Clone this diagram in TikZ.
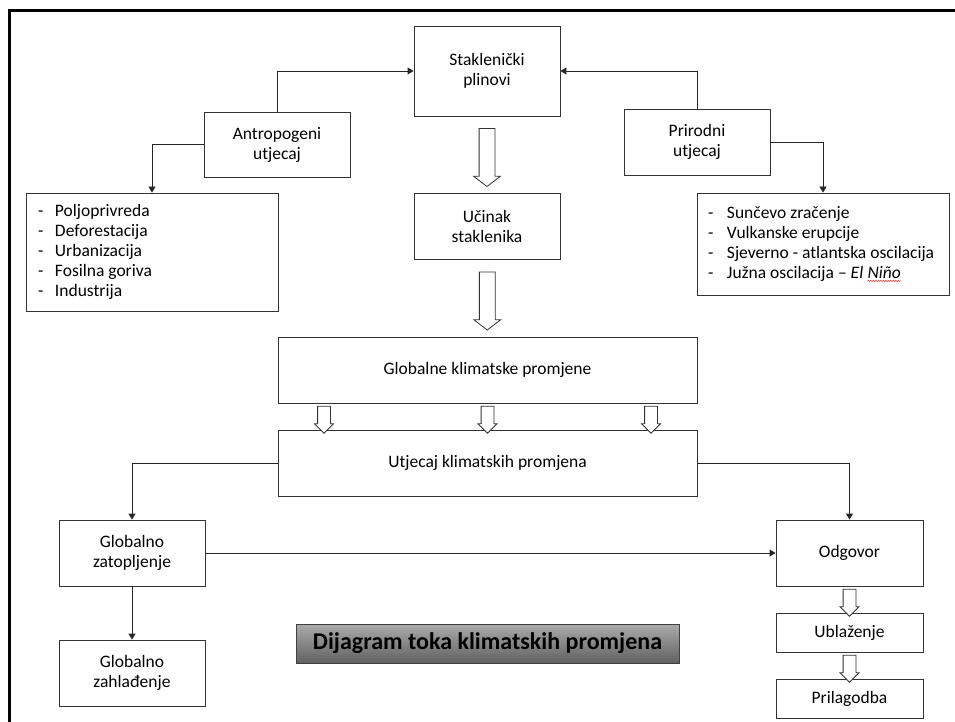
\documentclass[tikz,border=0pt]{standalone}
\usepackage{fontspec}
\setmainfont{Carlito}
\usetikzlibrary{arrows.meta, shapes.arrows, decorations.pathmorphing}

\begin{document}
\begin{tikzpicture}[x=1pt, y=-1pt,
    every node/.style={font=\fontsize{17.5}{20}\selectfont},
    box/.style={draw=black!80, line width=0.9pt, fill=white, align=center, inner sep=0pt, minimum width=146pt, minimum height=66pt},
    listbox/.style={draw=black!80, line width=0.9pt, align=flush left, inner xsep=12pt, inner ysep=0pt, text width=228pt},
    link/.style={draw=black!85, line width=0.9pt, -{Triangle[length=6pt, width=7pt]}},
    bigarrow/.style={single arrow, draw=black!80, fill=white, line width=0.8pt, rotate=-90, inner xsep=0pt, inner ysep=7.5pt, minimum width=26pt, single arrow head extend=5.5pt, single arrow tip angle=105},
    smallarrow/.style={bigarrow, inner ysep=6pt, minimum width=18pt, single arrow head extend=3pt, single arrow tip angle=90, minimum height=27pt},
    title/.style={draw=black!75, line width=0.8pt, top color=black!33, bottom color=black!62, minimum width=383pt, minimum height=39pt, inner sep=0pt, font=\fontsize{24}{27}\selectfont\bfseries}]
\useasboundingbox (0,0) rectangle (955,722);
\draw[line width=3pt] (9.5,722) -- (9.5,10.5) -- (955,10.5);

% upper part
\node[box, minimum height=90pt] (stak) at (487,71) {Staklenički\\plinovi};
\node[box, minimum height=65pt] (antro) at (277,144.5) {Antropogeni\\utjecaj};
\node[box] (prir) at (697,142) {Prirodni\\utjecaj};
\node[box] (ucinak) at (487,226) {Učinak\\staklenika};

\node[listbox, minimum height=118pt] (antrolist) at (152,252) {%
\makebox[17pt][l]{-}Poljoprivreda\\
\makebox[17pt][l]{-}Deforestacija\\
\makebox[17pt][l]{-}Urbanizacija\\
\makebox[17pt][l]{-}Fosilna goriva\\
\makebox[17pt][l]{-}Industrija};
\node[listbox, inner xsep=11pt, text width=230pt, minimum height=102pt] (prirlist) at (823,244) {%
\makebox[19pt][l]{-}Sunčevo zračenje\\
\makebox[19pt][l]{-}Vulkanske erupcije\\
\makebox[19pt][l]{-}Sjeverno - atlantska oscilacija\\
\makebox[19pt][l]{-}Južna oscilacija -- \textit{El \tikz[baseline=(nino.base)]{\node[inner sep=0pt, minimum size=0pt, text width=] (nino) {Niño};
  \draw[red!80, line width=0.5pt, decorate, decoration={snake, amplitude=0.7pt, segment length=2.5pt}] ([yshift=-2.5pt]nino.south west) -- ([yshift=-2.5pt]nino.south east);}}};

\draw[link] (antro.north) |- (stak.west);
\draw[link] (prir.north) |- (stak.east);
\draw[link] (antro.west) -| (antrolist.north);
\draw[link] (prir.east) -| (prirlist.north);

% middle part
\node[box, minimum width=419pt] (glob) at (487.5,370) {Globalne klimatske promjene};
\node[box, minimum width=419pt] (utj) at (487.5,463) {Utjecaj klimatskih promjena};

\path (stak.south) -- (ucinak.north) node[midway, bigarrow, minimum height=58pt] {};
\path (ucinak.south) -- (glob.north) node[midway, bigarrow, minimum height=58pt] {};
\path ([xshift=-163.5pt]glob.south) -- ([xshift=-163.5pt]utj.north) node[midway, smallarrow] {};
\path (glob.south) -- (utj.north) node[midway, smallarrow] {};
\path ([xshift=163.5pt]glob.south) -- ([xshift=163.5pt]utj.north) node[midway, smallarrow] {};

% lower part
\node[box] (zatop) at (132,553) {Globalno\\zatopljenje};
\node[box] (zahl) at (132,673) {Globalno\\zahlađenje};
\node[box, minimum width=147pt] (odg) at (849.5,553) {Odgovor};
\node[box, minimum width=147pt, minimum height=39pt] (ublaz) at (849.5,632.5) {Ublaženje};
\node[box, minimum width=147pt, minimum height=39pt] (prilag) at (849.5,698.5) {Prilagodba};

\draw[link] (utj.west) -| (zatop.north);
\draw[link] (utj.east) -| (odg.north);
\draw[link] (zatop.south) -- (zahl.north);
\draw[link] (zatop.east) -- (odg.west);

\path (odg.south) -- (ublaz.north) node[midway, smallarrow] {};
\path (ublaz.south) -- (prilag.north) node[midway, smallarrow] {};

\node[title] (naslov) at (487.5,643.5) {Dijagram toka klimatskih promjena};

\end{tikzpicture}
\end{document}
